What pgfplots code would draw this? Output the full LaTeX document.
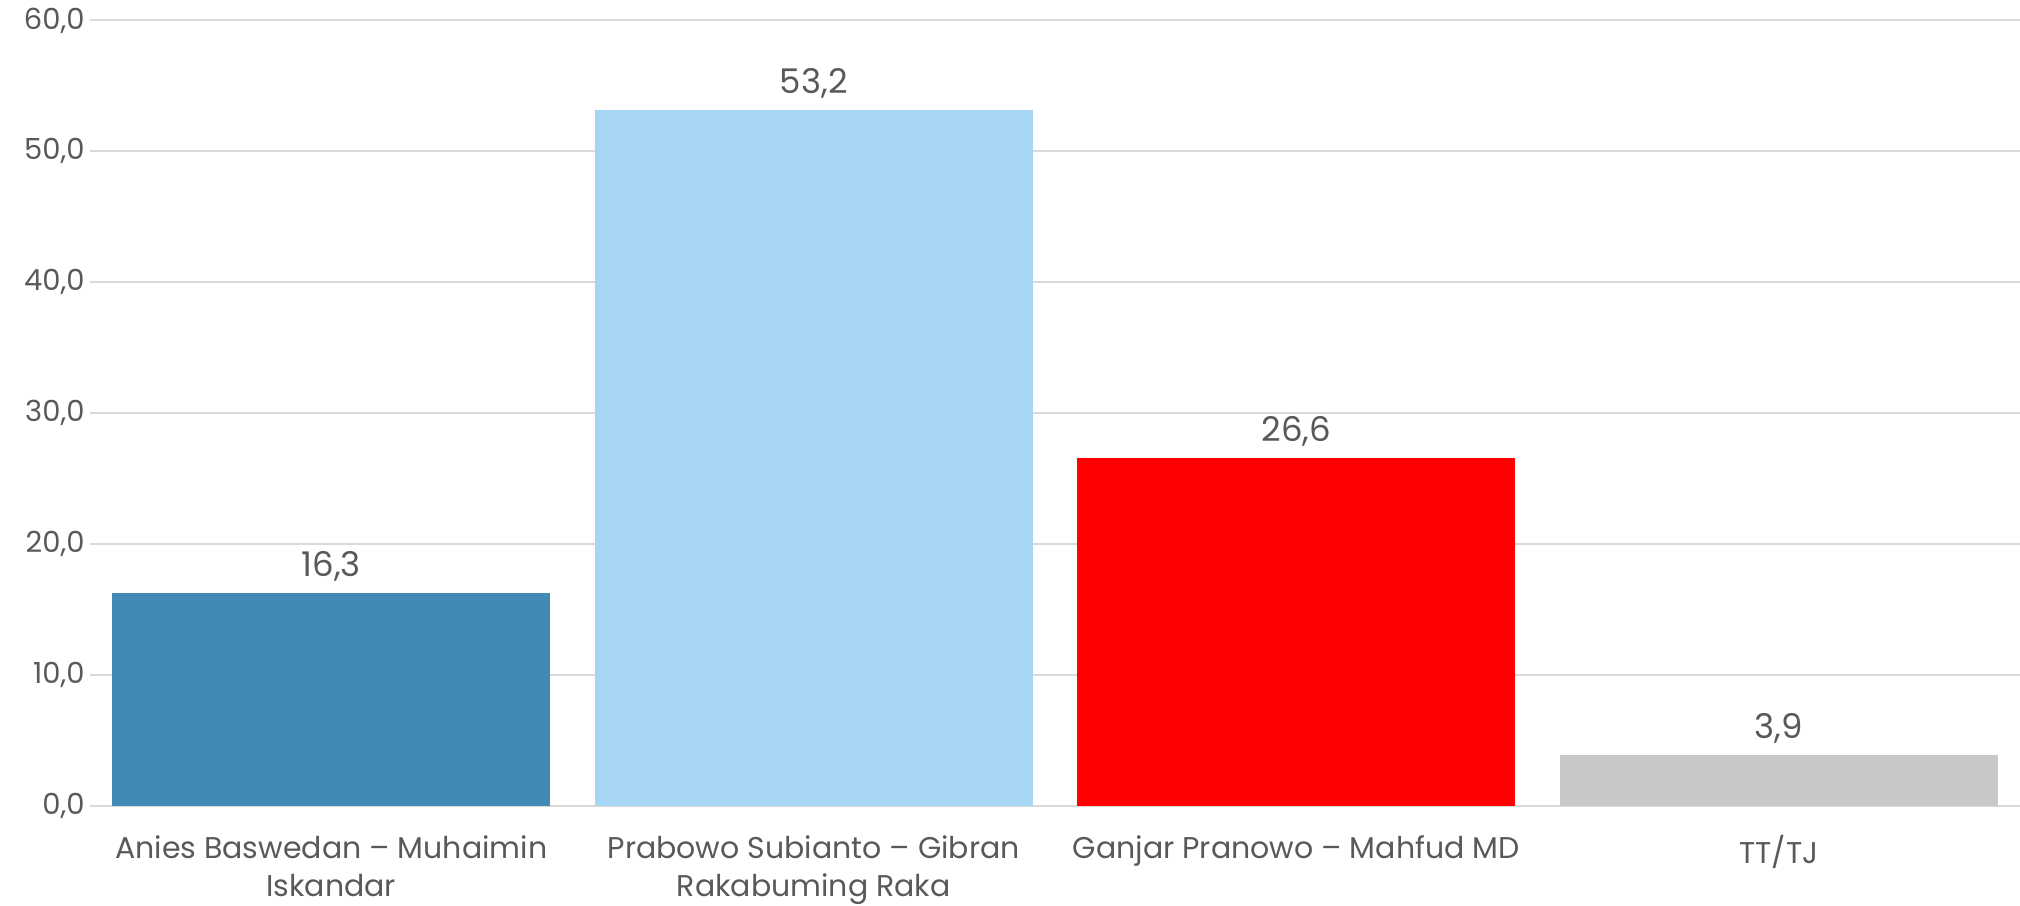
\documentclass[border=0pt]{standalone}
\usepackage{pgfplots}
\pgfplotsset{compat=1.18}
\usepackage{fontspec}
\setmainfont{Poppins}
\definecolor{txt}{HTML}{595959}
\definecolor{gridc}{HTML}{D9D9D9}
\definecolor{cA}{HTML}{418AB3}
\definecolor{cB}{HTML}{A6D5F5}
\definecolor{cC}{HTML}{FF0000}
\definecolor{cD}{HTML}{C8C8C8}
\begin{document}
\begin{tikzpicture}[x=1pt,y=1pt]
\useasboundingbox (-90,-99) rectangle (1930,806);
\begin{axis}[
  at={(0,0)}, anchor=south west,
  scale only axis,
  width=1930pt, height=785.5pt,
  xmin=-0.5, xmax=3.5, ymin=0, ymax=60,
  ytick={0,10,20,30,40,50,60},
  xtick={0,1,2,3},
  xticklabels={{Anies Baswedan -- Muhaimin\\Iskandar},{Prabowo Subianto -- Gibran\\Rakabuming Raka},{Ganjar Pranowo -- Mahfud MD},{TT/TJ}},
  xticklabel style={font=\fontsize{30}{38}\selectfont, text=txt, align=center, yshift=-26pt},
  yticklabel style={font=\fontsize{29}{34}\selectfont, text=txt, xshift=-2pt},
  /pgf/number format/.cd, fixed, fixed zerofill, precision=1, use comma, assume math mode=true,
  /pgfplots/.cd,
  axis line style={draw=none},
  xmajorgrids=false,
  ymajorgrids, grid style={draw=gridc, line width=2pt},
  major tick length=0pt,
  ybar, bar width=438pt, bar shift=0pt,
  nodes near coords,
  every node near coord/.append style={font=\fontsize{34}{40}\selectfont, text=txt, anchor=south, yshift=8pt},
  clip=false,
]
\draw[gridc, line width=2.5pt] (axis cs:-0.5,0) -- (axis cs:3.5,0);
\addplot[fill=cA, draw=none] coordinates {(0,16.3)};
\addplot[fill=cB, draw=none] coordinates {(1,53.2)};
\addplot[fill=cC, draw=none] coordinates {(2,26.6)};
\addplot[fill=cD, draw=none] coordinates {(3,3.9)};
\end{axis}
\end{tikzpicture}
\end{document}
